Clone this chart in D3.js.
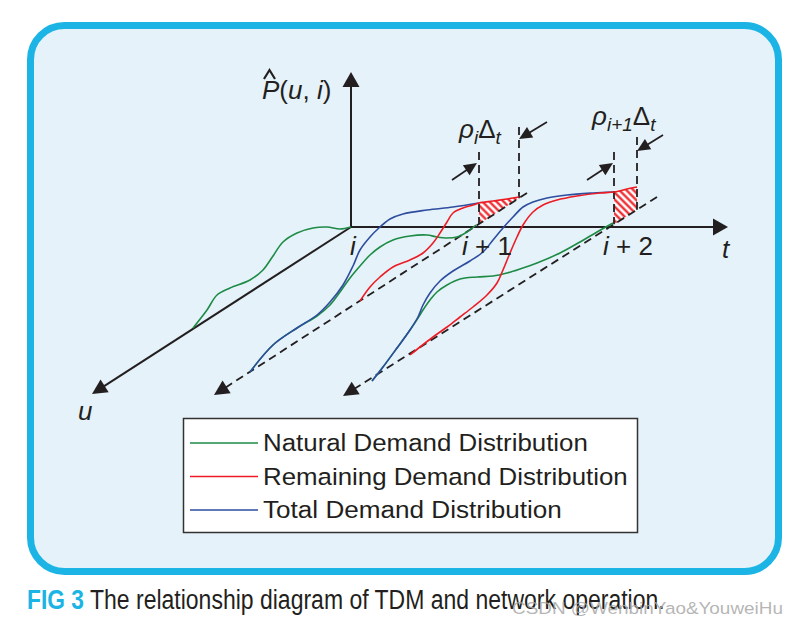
<!DOCTYPE html>
<html><head><meta charset="utf-8">
<script src="https://cdn.jsdelivr.net/npm/d3@7"></script>
<style>body{margin:0;background:#fff}svg{display:block}</style>
</head><body>
<svg id="c" width="798" height="625"></svg>
<script>
// ---- data: diagram coordinates (t = along time axis, h = height above the t axis) ----
const naturalI   = [[-158,-101],[-144,-83],[-134,-68],[-121,-61],[-101,-53],[-88,-43],[-78,-29],[-68,-15],[-54,-6],[-38,-1],[-24,0],[-11,-2],[0,0]];
const totalI1    = [[-101,-145],[-78,-118],[-54,-101],[-34,-88],[-21,-75],[-8,-58],[2,-39],[9,-23],[19,-10],[29,0],[39,8],[52,13],[76,17],[102,20],[128,24]];
const naturalI1  = [[-101,-145],[-78,-118],[-54,-101],[-34,-89],[-21,-78],[-11,-65],[-1,-51],[9,-39],[19,-28],[29,-20],[42,-13],[59,-9],[76,-8],[86,-10],[96,-11],[106,-10],[116,-5],[125,2]];
const remainI1   = [[9,-74],[19,-60],[29,-50],[42,-40],[59,-33],[72,-26],[82,-16],[89,-6],[96,5],[102,14],[112,19],[122,22],[128,24],[142,26],[156,28],[168,30]];
const totalI2    = [[21,-154],[32,-140],[46,-121],[59,-103],[67,-90],[72,-78],[79,-66],[89,-54],[102,-44],[119,-34],[132,-25],[142,-13],[152,-1],[162,10],[172,20],[182,25],[196,29],[216,32],[242,34],[262,35]];
const naturalI2  = [[21,-154],[32,-140],[46,-121],[59,-103],[67,-91],[72,-83],[79,-73],[86,-65],[96,-58],[109,-52],[126,-50],[142,-49],[156,-46],[169,-42],[186,-36],[209,-26],[229,-15],[246,-5],[262,4]];
const remainI2   = [[59,-128],[69,-120],[82,-110],[96,-100],[109,-90],[122,-80],[136,-68],[146,-56],[152,-43],[159,-26],[166,-10],[172,2],[182,15],[192,22],[206,27],[226,31],[249,34],[263,35],[276,38],[286,40]];

const axisP = [[0,0],[0,155]];
const axisT = [[0,0],[377,0]];
const axisU = [[0,0],[-259,-167]];
const sliceLine1 = [[176,34],[-137,-168]];
const sliceLine2 = [[306,30],[-8,-169]];
const hatchSpan1 = [128,168];
const hatchSpan2 = [263,286];
const guideTops  = [[128,75],[168,100],[263,75],[286,90]];
const pointerArrows = [[[101,47],[126,64]],[[196,105],[168,88]],[[236,47],[262,64]],[[312,92],[286,76]]];

const tickLabels = ["i", "i + 1", "i + 2"];
const tickPos = [-1, 111, 252];
const legendNames = ["Natural Demand Distribution","Remaining Demand Distribution","Total Demand Distribution"];
const legendColors = ["#1d8b45","#ed1c24","#2e4d9f"];

// ---- drawing ----
const svg = d3.select("#c");
const x = d3.scaleLinear().domain([0,100]).range([351,451]);
const y = d3.scaleLinear().domain([0,100]).range([227,127]);
const ink = "#231f20";
const GREEN = legendColors[0], RED = legendColors[1], BLUE = legendColors[2];

// frame
svg.append("rect").attr("x",30.5).attr("y",25.5).attr("width",748).attr("height",546)
  .attr("rx",34).attr("ry",34).attr("fill","#e5f2f9").attr("stroke","#1bb4e5").attr("stroke-width",7);

const defs = svg.append("defs");
const pat = defs.append("pattern").attr("id","hatch").attr("patternUnits","userSpaceOnUse")
  .attr("width",5).attr("height",5).attr("patternTransform","rotate(45)");
pat.append("rect").attr("width",5).attr("height",5).attr("fill","#fff");
pat.append("line").attr("x1",0).attr("y1",1.5).attr("x2",5).attr("y2",1.5).attr("stroke",RED).attr("stroke-width",2.2);

function arrow(g, from, tip, len, w, dashed, sw) {
  const x1=x(from[0]), y1=y(from[1]), x2=x(tip[0]), y2=y(tip[1]);
  const dx=x2-x1, dy=y2-y1, L=Math.hypot(dx,dy), ux=dx/L, uy=dy/L;
  const bx=x2-ux*len, by=y2-uy*len, px=-uy, py=ux;
  const ln = g.append("line").attr("x1",x1).attr("y1",y1).attr("x2",bx+ux*1).attr("y2",by+uy*1)
    .attr("stroke",ink).attr("stroke-width",sw);
  if (dashed) ln.attr("stroke-dasharray","8,5");
  g.append("path").attr("d",`M${x2},${y2}L${bx+px*w/2},${by+py*w/2}L${bx-px*w/2},${by-py*w/2}Z`).attr("fill",ink);
}

const line = d3.line().x(d=>x(d[0])).y(d=>y(d[1])).curve(d3.curveCatmullRom.alpha(0.5));
function hOn(seg, t){ const [a,b]=seg; return a[1]+(b[1]-a[1])*(t-a[0])/(b[0]-a[0]); }

// hatch areas
function hatch(curve, span, seg){
  const pts = curve.filter(d=>d[0]>=span[0]-0.01 && d[0]<=span[1]+0.01);
  const top = line(pts);
  const d = top + `L${x(span[1])},${y(hOn(seg,span[1]))}L${x(span[0])},${y(hOn(seg,span[0]))}Z`;
  svg.append("path").attr("d",d).attr("fill","url(#hatch)");
}
hatch(remainI1, hatchSpan1, sliceLine1);
hatch(remainI2, hatchSpan2, sliceLine2);

const g = svg.append("g");
arrow(g, axisP[0], axisP[1], 15, 17, false, 2);
arrow(g, axisT[0], axisT[1], 15, 17, false, 2);
arrow(g, axisU[0], axisU[1], 15, 15, false, 2);
arrow(g, sliceLine1[0], sliceLine1[1], 15, 15, true, 1.8);
arrow(g, sliceLine2[0], sliceLine2[1], 15, 15, true, 1.8);

// vertical guides
const segs=[sliceLine1,sliceLine1,sliceLine2,sliceLine2];
guideTops.forEach((d,i)=>{
  g.append("line").attr("x1",x(d[0])).attr("x2",x(d[0])).attr("y1",y(d[1])).attr("y2",y(hOn(segs[i],d[0])))
   .attr("stroke",ink).attr("stroke-width",1.8).attr("stroke-dasharray","8,5");
});
pointerArrows.forEach(a=>arrow(g,a[0],a[1],13,12,false,1.8));

// curves
const curves = [[naturalI,GREEN],[naturalI1,GREEN],[naturalI2,GREEN],[totalI1,BLUE],[totalI2,BLUE],[remainI1,RED],[remainI2,RED]];
curves.forEach(([d,c])=>svg.append("path").attr("d",line(d)).attr("fill","none").attr("stroke",c).attr("stroke-width",1.6));

// labels
const font = "'Liberation Sans', Arial, Helvetica, sans-serif";
const T = svg.append("g").attr("font-family",font).attr("fill",ink);
tickLabels.forEach((s,i)=>{
  const t = T.append("text").attr("x",x(tickPos[i])).attr("y",y(-28)).attr("font-size",26);
  t.append("tspan").attr("font-style","italic").text("i");
  if (i>0) t.append("tspan").text(s.slice(1));
});
T.append("text").attr("x",x(371)).attr("y",y(-31)).attr("font-size",26).attr("font-style","italic").text("t");
T.append("text").attr("x",x(-273)).attr("y",y(-193)).attr("font-size",26).attr("font-style","italic").text("u");

const pl = T.append("text").attr("x",x(-89)).attr("y",y(128)).attr("font-size",26);
pl.append("tspan").attr("font-style","italic").text("P");
pl.append("tspan").text("(");
pl.append("tspan").attr("font-style","italic").text("u");
pl.append("tspan").text(", ");
pl.append("tspan").attr("font-style","italic").text("i");
pl.append("tspan").text(")");
T.append("path").attr("d",`M${x(-87)},${y(148)}L${x(-81.5)},${y(157)}L${x(-76)},${y(148)}`)
  .attr("fill","none").attr("stroke",ink).attr("stroke-width",2.2);

function rhoLabel(t0,h0,sub){
  const t = T.append("text").attr("x",x(t0)).attr("y",y(h0)).attr("font-size",26);
  t.append("tspan").attr("font-style","italic").text("ρ");
  t.append("tspan").attr("font-style","italic").attr("font-size",19).attr("dy",6).text(sub);
  t.append("tspan").attr("dy",-6).text("Δ");
  t.append("tspan").attr("font-style","italic").attr("font-size",19).attr("dy",6).text("t");
}
rhoLabel(108,89,"i");
rhoLabel(241,102,"i+1");

// text fitted to a width by horizontal scaling
function fitText(px, py, w, size, str, attrs){
  const t = svg.append("text").attr("x",0).attr("y",0).attr("font-family",font).attr("font-size",size).text(str);
  Object.entries(attrs||{}).forEach(([k,v])=>t.attr(k,v));
  const nat = t.node().getComputedTextLength();
  t.attr("transform",`translate(${px},${py}) scale(${w/nat},1)`);
  return t;
}

// legend
svg.append("rect").attr("x",183.5).attr("y",418.5).attr("width",454).attr("height",114)
  .attr("fill","#fff").attr("stroke","#333").attr("stroke-width",1.5);
const legW=[325,365,299];
legendNames.forEach((n,i)=>{
  const ly = 443 + i*33.5;
  svg.append("line").attr("x1",190).attr("x2",258).attr("y1",ly).attr("y2",ly).attr("stroke",legendColors[i]).attr("stroke-width",1.6);
  fitText(263, ly+8, legW[i], 23.5, n, {fill:ink});
});

// caption
fitText(27, 609, 57, 28, "FIG 3", {fill:"#1bb4e5","font-weight":"bold"});
fitText(90, 609, 575, 28, "The relationship diagram of TDM and network operation.", {fill:ink});
fitText(512, 614, 271, 17, "CSDN @WenbinYao&YouweiHu", {fill:"#a8a8a8","fill-opacity":0.85});
</script>
</body></html>
